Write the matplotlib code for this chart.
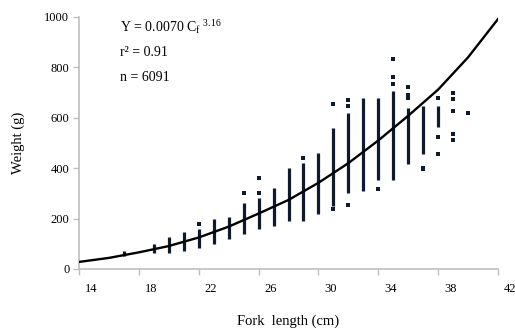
"""Length-weight relationship: fork length vs weight, with fitted power curve."""
import matplotlib.pyplot as plt
import matplotlib.transforms as mtransforms

plt.rcParams['font.family'] = ['Liberation Serif', 'DejaVu Serif']
plt.rcParams['mathtext.fontset'] = 'custom'
plt.rcParams['mathtext.rm'] = 'Liberation Serif'
plt.rcParams['mathtext.it'] = 'Liberation Serif'

# spread of weights observed at each fork length (cm)
fl_cols = [17, 19, 20, 21, 22, 23, 24, 25, 26, 27, 28, 29, 30, 31, 32, 33, 34, 35, 36, 37, 38]
w_lo = [50, 65, 65, 70, 85, 100, 120, 140, 160, 170, 190, 190, 220, 250, 300, 310, 355, 355, 415, 455, 565]
w_hi = [70, 100, 125, 145, 160, 200, 205, 260, 280, 320, 400, 420, 460, 560, 620, 680, 680, 705, 640, 645, 645]

# isolated fish
fl_out = [22, 25, 26, 26, 29, 31, 31, 32, 32, 32, 34, 35, 35, 35, 36, 36, 36,
          37, 37, 38, 38, 38, 39, 39, 39, 39, 39, 40]
w_out = [180, 300, 300, 360, 440, 655, 238, 645, 670, 255, 318, 735, 760, 835, 722, 680, 690,
         400, 395, 680, 525, 455, 700, 675, 627, 536, 512, 620]

# fitted curve
fl_fit = [14, 16, 18, 20, 22, 24, 26, 28, 30, 32, 34, 36, 38, 40, 42]
w_fit = [28, 44, 66, 91, 125, 168, 220, 274, 342, 420, 510, 608, 712, 840, 992]

x_ticks = [14, 18, 22, 26, 30, 34, 38, 42]
y_ticks = [0, 200, 400, 600, 800, 1000]

dot_color = '#0f1b2d'
axis_color = '#bfbfbf'

fig = plt.figure(figsize=(5.15, 3.32), dpi=100)
ax = fig.add_axes([0.1534, 0.1898, 0.8136, 0.759])

ax.vlines(fl_cols, w_lo, w_hi, colors=dot_color, linewidth=2.3, capstyle='butt', zorder=2)
ax.scatter(fl_out, w_out, marker='s', s=5, color=dot_color, linewidths=0, zorder=2)
ax.plot(fl_fit, w_fit, color='black', linewidth=1.7, zorder=3)

ax.set_xlim(14, 42)
ax.set_ylim(0, 1000)
ax.set_xticks(x_ticks)
ax.set_yticks(y_ticks)
ax.tick_params(axis='both', direction='out', length=4, width=1, color=axis_color,
               labelsize=9, pad=3)
ax.tick_params(axis='x', pad=6)

# labels sit a bit right of their tick marks, as in the original
shift = mtransforms.ScaledTranslation(0.12, 0, fig.dpi_scale_trans)
for lab in ax.get_xticklabels():
    lab.set_transform(lab.get_transform() + shift)

for side in ['top', 'right']:
    ax.spines[side].set_visible(False)
for side in ['left', 'bottom']:
    ax.spines[side].set_color(axis_color)
    ax.spines[side].set_linewidth(1.2)

ax.set_xlabel('Fork  length (cm)', fontsize=10.5, labelpad=14)
ax.set_ylabel('Weight (g)', fontsize=10.5, labelpad=14)

ax.text(0.098, 0.995, r'Y = 0.0070 C$_{f}$ $^{3.16}$', transform=ax.transAxes,
        fontsize=10, va='top', ha='left')
ax.text(0.098, 0.885, 'r² = 0.91', transform=ax.transAxes,
        fontsize=10, va='top', ha='left')
ax.text(0.098, 0.785, 'n = 6091', transform=ax.transAxes,
        fontsize=10, va='top', ha='left')

fig.savefig('out.png', dpi=100)
